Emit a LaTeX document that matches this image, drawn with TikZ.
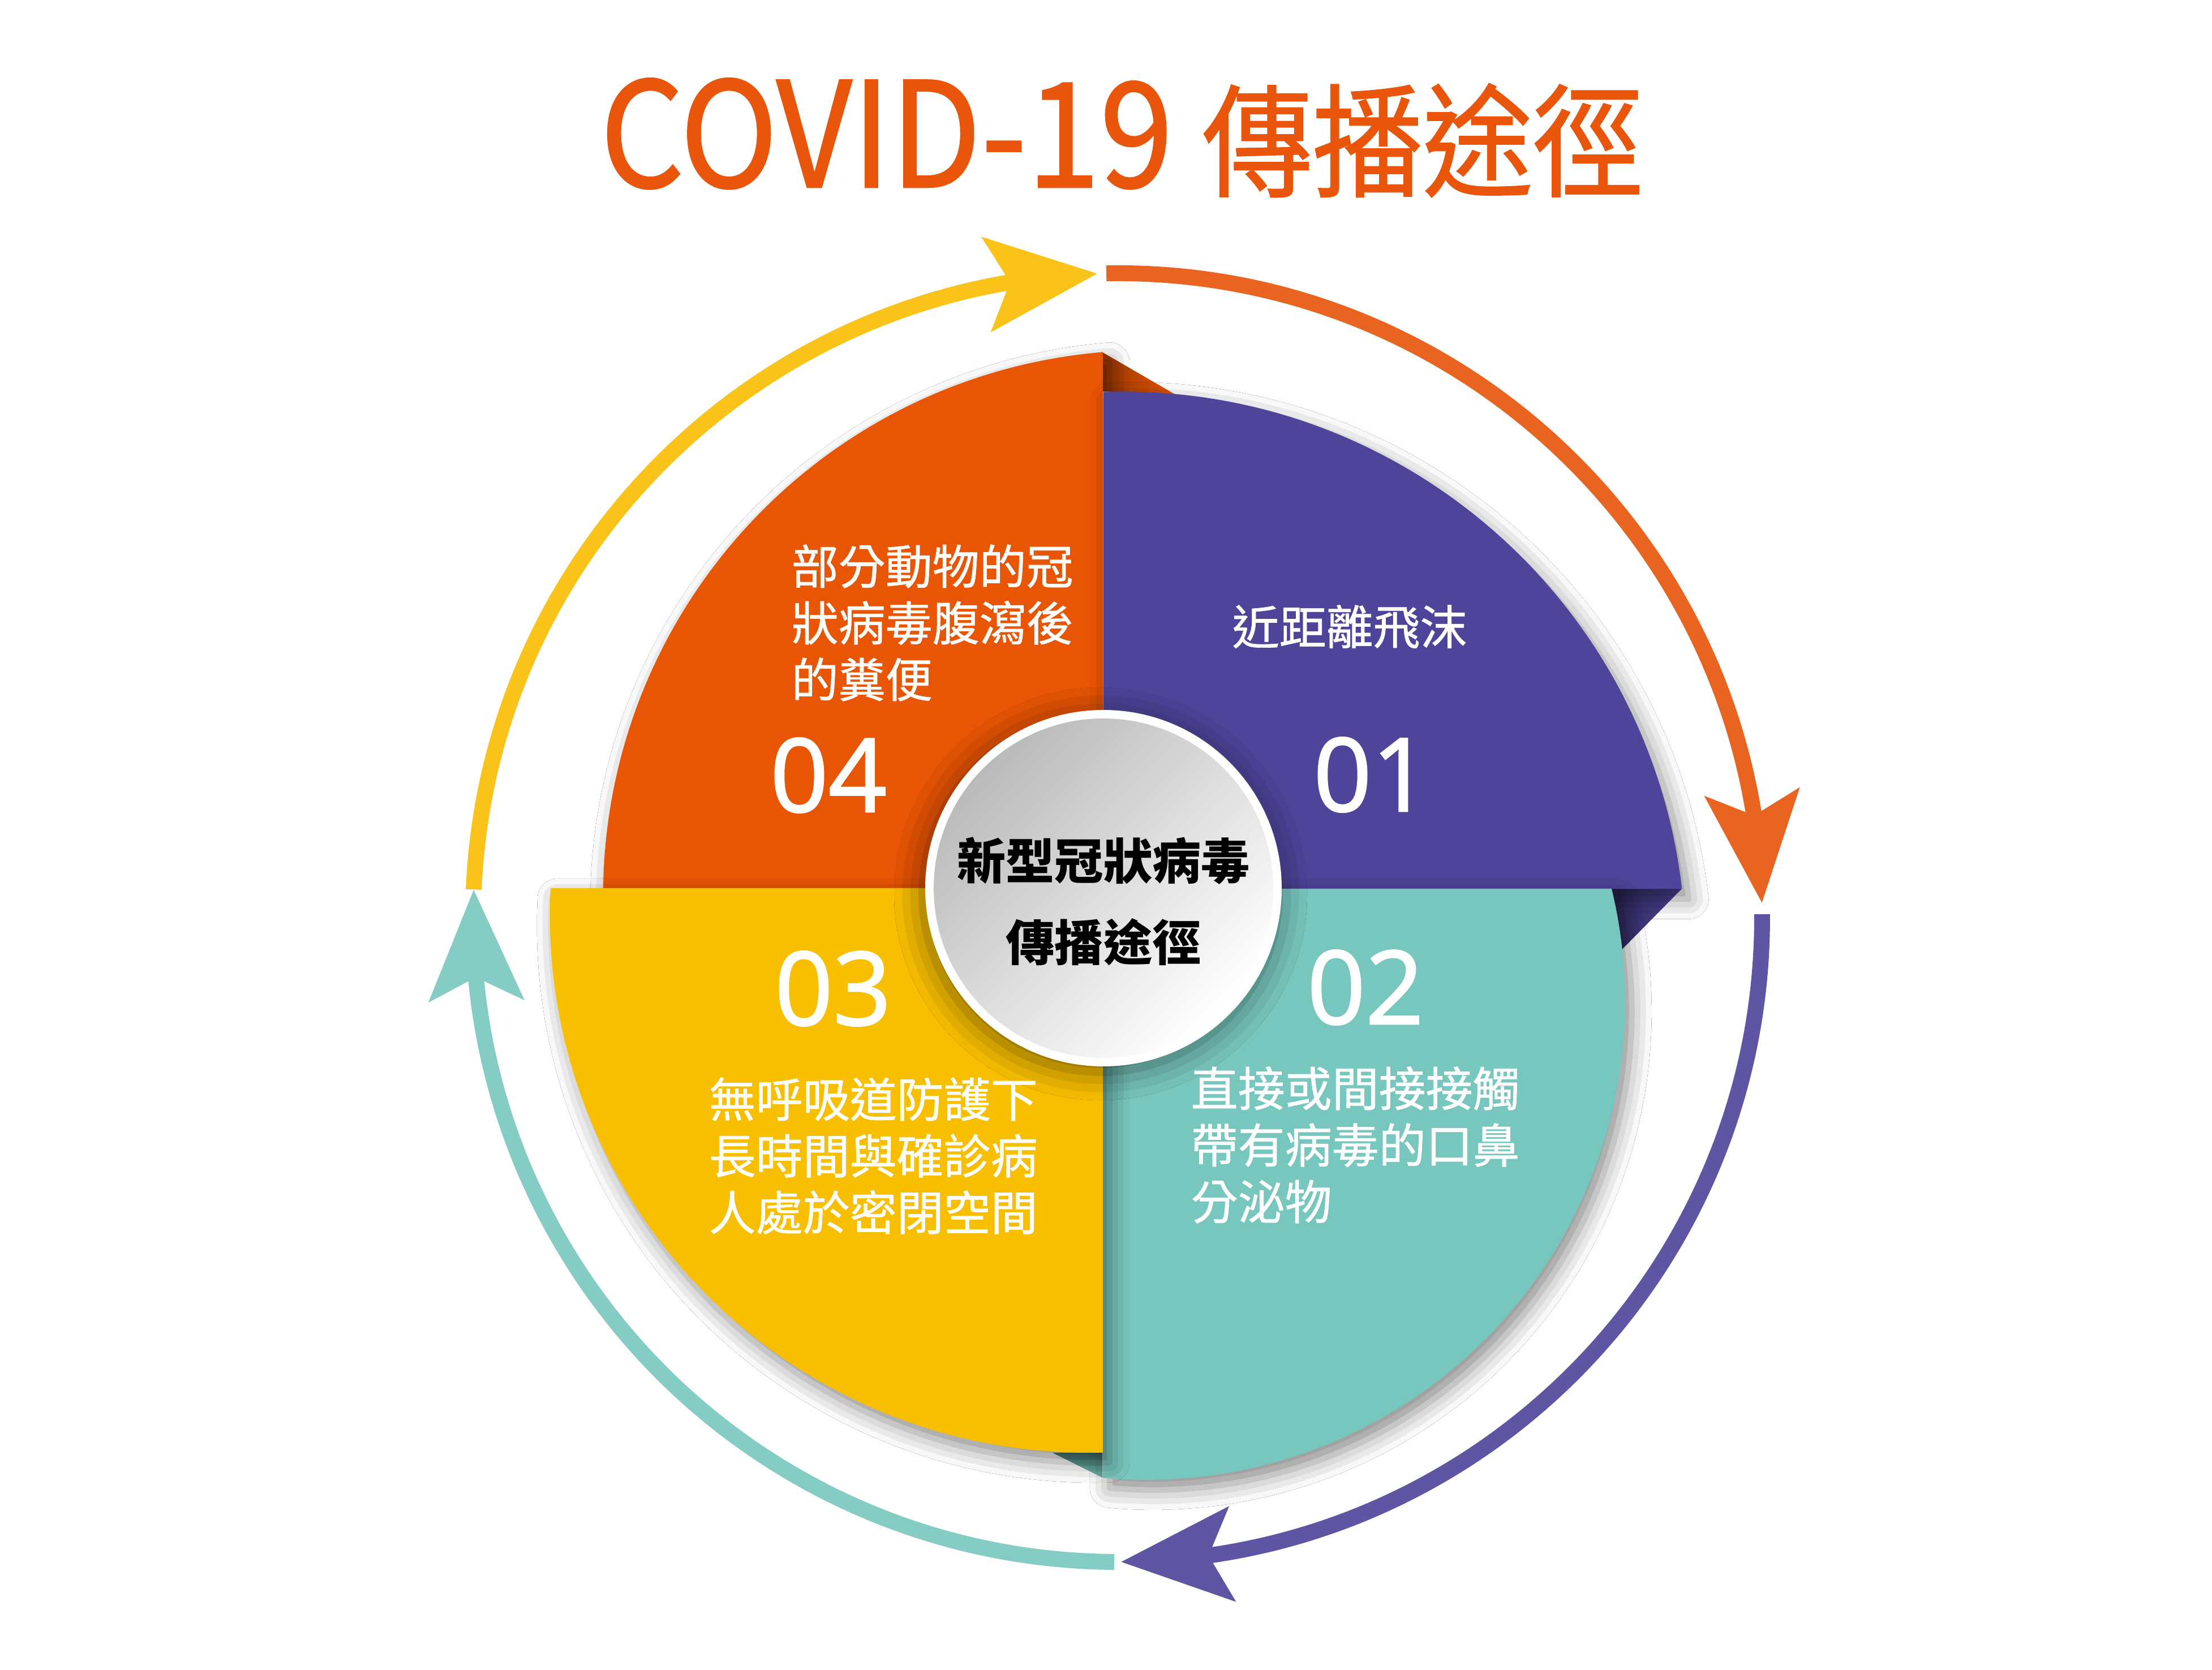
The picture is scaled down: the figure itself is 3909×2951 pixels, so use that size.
\documentclass[tikz,border=0pt]{standalone}
\usepackage{fontspec}
\setmainfont{Noto Sans CJK TC}
\newfontfamily\numfont[FakeBold=1.6]{Open Sans}
\newfontfamily\titlefont[FakeStretch=0.9,FakeBold=1]{Noto Sans CJK TC}
\newfontfamily\routefont[FakeBold=0.8]{Noto Sans CJK TC}
\usetikzlibrary{arrows.meta,bending,shadows.blur}

\definecolor{quadorange}{HTML}{E85504}
\definecolor{quadpurple}{HTML}{4E4499}
\definecolor{quadteal}{HTML}{78C7BE}
\definecolor{quadyellow}{HTML}{F8BF00}
\definecolor{ringorange}{HTML}{E96420}
\definecolor{ringpurple}{HTML}{5E56A2}
\definecolor{ringteal}{HTML}{84CCC4}
\definecolor{ringyellow}{HTML}{FAC31A}
\definecolor{titleorange}{HTML}{E9560B}

\begin{document}
\begin{tikzpicture}[x=0.01cm,y=0.01cm,
  quadtext/.style={text=white,inner sep=0pt,align=left,font=\routefont\fontsize{23.6pt}{28.45pt}\selectfont},
  numtext/.style={text=white,inner sep=0pt,font=\numfont\fontsize{51.2pt}{60pt}\selectfont},
  coretext/.style={text=black,inner sep=0pt,font=\bfseries\fontsize{24.5pt}{30pt}\selectfont},
  ringarc/.style={line width=0.28cm,-{Stealth[length=1.95cm,width=1.65cm,inset=0.4cm]}},
  quadshadow/.style={blur shadow={shadow xshift=0.12cm,shadow yshift=-0.18cm,shadow blur radius=0.35cm,shadow opacity=45}}]

  \fill[white] (0,0) rectangle (3909,2951);
  \useasboundingbox (0,0) rectangle (3909,2951);

  % Title
  \node (title) [anchor=base,inner sep=0pt,text=titleorange] at (1982,2620)
    {\titlefont\fontsize{73.5pt}{80pt}\selectfont COVID-19 \fontsize{61.5pt}{80pt}\selectfont 傳播途徑};

  % Outer ring
  \coordinate (ring) at (1975,1329);
  \path (ring) ++(91:1139) coordinate (ring top);
  \path (ring) ++(0.3:1139) coordinate (ring right);
  \path (ring) ++(-90.3:1139) coordinate (ring bottom);
  \path (ring) ++(177.5:1139) coordinate (ring left);
  \draw[ringarc,ringorange] (ring top) arc[start angle=91,end angle=1.3,radius=1139];
  \draw[ringarc,ringpurple] (ring right) arc[start angle=0.3,end angle=-89.7,radius=1139];
  \draw[ringarc,ringteal] (ring bottom) arc[start angle=-90.3,end angle=-182.5,radius=1139];
  \draw[ringarc,ringyellow] (ring left) arc[start angle=177.5,end angle=91.8,radius=1139];

  % Quadrant 04
  \shade[left color=quadorange!65!black,right color=quadorange] (1947,2329) -- (2078,2253) -- (1947,2259) -- cycle;
  \fill[quadorange,quadshadow] (1949,1380) -- (1066,1380) arc[start angle=179.29,end angle=94.82,radius=964] -- cycle;

  % Quadrant 01
  \shade[left color=quadpurple!60!black,right color=quadpurple] (2848,1380) -- (2972,1380) -- (2848,1254) -- cycle;
  \fill[quadpurple,quadshadow] (1950,1380) -- (1950,2258) arc[start angle=92.02,end angle=6.64,radius=994] -- cycle;

  % Quadrant 02
  \shade[top color=quadteal!60!black,bottom color=quadteal] (1860,383) -- (1948,383) -- (1948,339) -- cycle;
  \fill[quadteal,quadshadow] (1949,1380) -- (2848,1380) arc[start angle=13.60,end angle=-95.22,radius=846] -- cycle;

  % Quadrant 03
  \fill[quadyellow,quadshadow] (1949,1381) -- (973,1381) arc[start angle=177.10,end angle=271.63,radius=950] -- cycle;

  % Centre disc
  \fill[white,blur shadow={shadow xshift=-0.05cm,shadow yshift=-0.1cm,shadow blur radius=0.5cm,shadow opacity=50}] (1950,1381) circle (315);
  \shade[top color=black!27,middle color=black!12,bottom color=white,shading angle=45] (1950,1381) circle (300);
  \node (core top) [coretext] at (1950,1429) {新型冠狀病毒};
  \node (core bottom) [coretext] at (1950,1286) {傳播途徑};

  % Numbers
  \node (num 01) [numtext,anchor=base] at (2424,1517) {01};
  \node (num 02) [numtext,anchor=base] at (2413,1141) {02};
  \node (num 03) [numtext,anchor=base] at (1472,1139) {03};
  \node (num 04) [numtext,anchor=base] at (1464,1516) {04};

  % Routes
  \node (route 01) [quadtext] at (2385,1843) {近距離飛沫};
  \node (route 02) [quadtext,anchor=west] at (2104,927) {直接或間接接觸\\帶有病毒的口鼻\\分泌物};
  \node (route 03) [quadtext,anchor=west] at (1252,908) {無呼吸道防護下\\長時間與確診病\\人處於密閉空間};
  \node (route 04) [quadtext,anchor=west] at (1398,1850) {部分動物的冠\\狀病毒腹瀉後\\的糞便};
\end{tikzpicture}
\end{document}
